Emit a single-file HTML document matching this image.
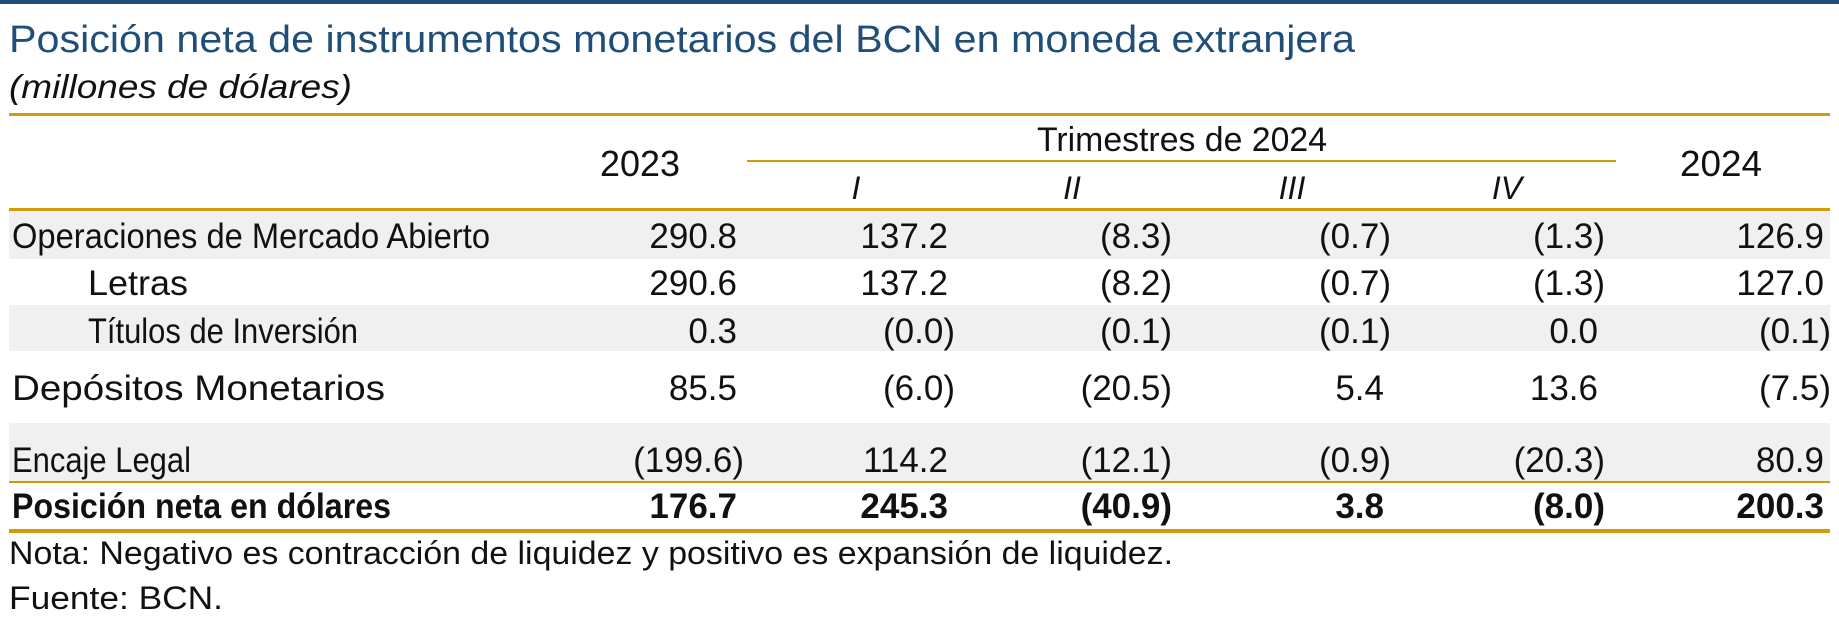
<!DOCTYPE html>
<html><head><meta charset="utf-8"><style>
html,body{margin:0;padding:0;background:#fff;}
svg{display:block;font-family:"Liberation Sans",sans-serif;}
</style></head><body>
<svg width="1839" height="619" viewBox="0 0 1839 619">
<rect x="0" y="0" width="1839" height="4" fill="#1f4e79"/>
<text x="9" y="52" font-size="38" fill="#1f4e79" textLength="1346" lengthAdjust="spacingAndGlyphs">Posición neta de instrumentos monetarios del BCN en moneda extranjera</text>
<text x="9" y="98" font-size="33" font-style="italic" font-weight="300" fill="#111" textLength="343" lengthAdjust="spacingAndGlyphs">(millones de dólares)</text>
<rect x="9" y="113" width="1821" height="3" fill="#d19b0a"/>
<g id="bands"></g>
<text x="1182" y="151" font-size="34" text-anchor="middle" textLength="290" lengthAdjust="spacingAndGlyphs" fill="#111">Trimestres de 2024</text>
<rect x="747" y="160" width="869" height="2" fill="#d19b0a"/>
<text x="680" y="176" font-size="36" text-anchor="end" textLength="80" lengthAdjust="spacingAndGlyphs" fill="#111">2023</text>
<text x="1762" y="176" font-size="36" text-anchor="end" textLength="82" lengthAdjust="spacingAndGlyphs" fill="#111">2024</text>
<g id="roman" font-size="32" font-style="italic" fill="#111"></g>
<rect x="9" y="208" width="1821" height="3" fill="#d19b0a"/>
<g id="rows" font-size="35" fill="#111"></g>
<rect x="9" y="481" width="1821" height="2" fill="#d19b0a"/>
<rect x="9" y="529" width="1821" height="4" fill="#d19b0a"/>
<text x="9" y="564" font-size="32" fill="#111" textLength="1164" lengthAdjust="spacingAndGlyphs">Nota: Negativo es contracción de liquidez y positivo es expansión de liquidez.</text>
<text x="9" y="609" font-size="32" fill="#111" textLength="214" lengthAdjust="spacingAndGlyphs">Fuente: BCN.</text>
</svg>
<script>
const labels = ["Operaciones de Mercado Abierto","Letras","Títulos de Inversión","Depósitos Monetarios","Encaje Legal","Posición neta en dólares"];
const col2023 = ["290.8","290.6","0.3","85.5","(199.6)","176.7"];
const colQ1 = ["137.2","137.2","(0.0)","(6.0)","114.2","245.3"];
const colQ2 = ["(8.3)","(8.2)","(0.1)","(20.5)","(12.1)","(40.9)"];
const colQ3 = ["(0.7)","(0.7)","(0.1)","5.4","(0.9)","3.8"];
const colQ4 = ["(1.3)","(1.3)","0.0","13.6","(20.3)","(8.0)"];
const col2024 = ["126.9","127.0","(0.1)","(7.5)","80.9","200.3"];
const quarters = ["I","II","III","IV"];
const NS="http://www.w3.org/2000/svg";
const cols=[col2023,colQ1,colQ2,colQ3,colQ4,col2024];
const colX=[737,948,1165,1384,1598,1824];
const baseY=[248,295,343,400,472,518];
const labelW=[478,100,270,373,179,379];
const indent=[12,88,88,12,12,12];
const bandsTop=[210,305,423];
const bandsH=[49,46,59];
const bandsG=document.getElementById('bands');
bandsTop.forEach((t,i)=>{const r=document.createElementNS(NS,'rect');
r.setAttribute('x',9);r.setAttribute('y',t);r.setAttribute('width',1821);r.setAttribute('height',bandsH[i]);r.setAttribute('fill','#f0f0f0');


bandsG.appendChild(r);});
const romanX=[856,1072,1292,1507];
const rg=document.getElementById('roman');
quarters.forEach((q,i)=>{const t=document.createElementNS(NS,'text');
t.setAttribute('x',romanX[i]);t.setAttribute('y',199);t.setAttribute('text-anchor','middle');t.textContent=q;


rg.appendChild(t);});
const g=document.getElementById('rows');
labels.forEach((lab,r)=>{
 const bold=r===5;
 const t=document.createElementNS(NS,'text');
 t.setAttribute('x',indent[r]);t.setAttribute('y',baseY[r]);t.textContent=lab;
 t.setAttribute('textLength',labelW[r]);t.setAttribute('lengthAdjust','spacingAndGlyphs');
 if(bold)t.setAttribute('font-weight','bold');
 
 
 g.appendChild(t);
 cols.forEach((c,ci)=>{
  const v=c[r];const n=document.createElementNS(NS,'text');
  const neg=v.startsWith('(');
  n.setAttribute('x',colX[ci]+(neg?7:0));n.setAttribute('y',baseY[r]);n.setAttribute('text-anchor','end');
  if(bold)n.setAttribute('font-weight','bold');
  n.textContent=v;
  
  
  g.appendChild(n);
 });
});
</script>
</body></html>
